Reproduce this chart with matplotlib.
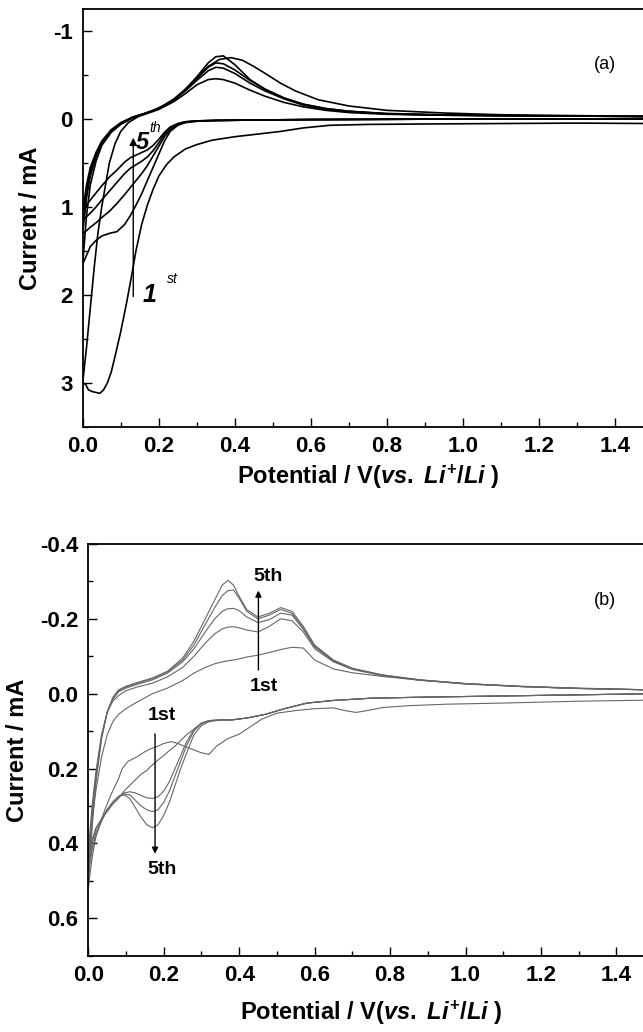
import matplotlib
matplotlib.use("Agg")
import matplotlib.pyplot as plt
from matplotlib.ticker import MultipleLocator, FormatStrFormatter

plt.rcParams['font.family'] = ['Liberation Sans', 'DejaVu Sans']
plt.rcParams['font.weight'] = 'bold'
plt.rcParams['axes.unicode_minus'] = False
plt.rcParams['mathtext.fontset'] = 'custom'
plt.rcParams['mathtext.rm'] = 'Liberation Sans:bold'
plt.rcParams['mathtext.it'] = 'Liberation Sans:italic:bold'
plt.rcParams['mathtext.bf'] = 'Liberation Sans:bold'

# ---------------- panel (a) data ----------------
# cycle 1, cathodic scan (1.5 V -> 0 V)
a1_cat_x = [1.5, 1.3, 1.1, 0.9, 0.75, 0.65, 0.58, 0.52, 0.46, 0.40, 0.34, 0.30, 0.27, 0.24, 0.22,
            0.20, 0.185, 0.17, 0.155, 0.14, 0.13, 0.115, 0.10, 0.085, 0.075, 0.065, 0.055, 0.045,
            0.035, 0.025, 0.015, 0.008, 0.0]
a1_cat_y = [0.05, 0.045, 0.05, 0.055, 0.06, 0.07, 0.10, 0.14, 0.17, 0.20, 0.24, 0.29, 0.34, 0.43, 0.52,
            0.65, 0.8, 0.98, 1.2, 1.5, 1.75, 2.1, 2.42, 2.7, 2.88, 3.0, 3.08, 3.12,
            3.11, 3.1, 3.08, 3.02, 3.0]
# cycle 1, anodic scan (0 V -> 1.5 V)
a1_an_x = [0.0, 0.01, 0.02, 0.03, 0.04, 0.05, 0.06, 0.07, 0.085, 0.10, 0.12, 0.15, 0.18, 0.21, 0.24,
           0.27, 0.30, 0.33, 0.36, 0.39, 0.42, 0.45, 0.48, 0.52, 0.56, 0.62, 0.70, 0.80, 0.95, 1.1,
           1.3, 1.5]
a1_an_y = [3.0, 2.6, 2.15, 1.7, 1.3, 1.0, 0.75, 0.5, 0.28, 0.14, 0.04, -0.04, -0.09, -0.15, -0.23,
           -0.34, -0.47, -0.6, -0.68, -0.70, -0.67, -0.60, -0.52, -0.41, -0.32, -0.22, -0.15, -0.10,
           -0.07, -0.05, -0.04, -0.03]

# cycles 2-5, cathodic scans
a_cat_x = [1.5, 1.2, 0.9, 0.6, 0.45, 0.35, 0.30, 0.27, 0.25, 0.23, 0.215, 0.20, 0.185, 0.17, 0.155,
           0.14, 0.125, 0.11, 0.09, 0.07, 0.05, 0.035, 0.02, 0.01, 0.0]
a2_cat_y = [0.0, 0.0, 0.0, 0.005, 0.01, 0.015, 0.025, 0.04, 0.07, 0.14, 0.25, 0.4, 0.55, 0.7, 0.85,
            0.98, 1.1, 1.2, 1.28, 1.3, 1.33, 1.38, 1.45, 1.55, 1.65]
a3_cat_y = [0.0, 0.0, 0.0, 0.005, 0.01, 0.015, 0.02, 0.035, 0.06, 0.12, 0.2, 0.31, 0.42, 0.53, 0.62,
            0.7, 0.78, 0.86, 0.96, 1.05, 1.12, 1.18, 1.23, 1.27, 1.3]
a4_cat_y = [0.0, 0.0, 0.0, 0.005, 0.01, 0.015, 0.02, 0.03, 0.055, 0.1, 0.17, 0.27, 0.36, 0.43, 0.48,
            0.52, 0.56, 0.62, 0.72, 0.82, 0.92, 1.0, 1.07, 1.11, 1.15]
a5_cat_y = [0.0, 0.0, 0.0, 0.005, 0.01, 0.015, 0.02, 0.03, 0.05, 0.09, 0.15, 0.23, 0.30, 0.35, 0.38,
            0.41, 0.44, 0.49, 0.58, 0.66, 0.76, 0.84, 0.92, 0.98, 1.05]

# cycles 2-5, anodic scans
a_an_x = [0.0, 0.01, 0.02, 0.035, 0.05, 0.075, 0.10, 0.13, 0.16, 0.20, 0.24, 0.27, 0.30, 0.33, 0.35,
          0.37, 0.40, 0.44, 0.48, 0.53, 0.58, 0.64, 0.70, 0.80, 0.95, 1.1, 1.3, 1.5]
a2_an_y = [1.65, 1.1, 0.75, 0.48, 0.3, 0.15, 0.06, -0.01, -0.05, -0.11, -0.2, -0.29, -0.39, -0.45,
           -0.46, -0.45, -0.41, -0.33, -0.26, -0.19, -0.14, -0.1, -0.075, -0.055, -0.045, -0.04,
           -0.035, -0.03]
a3_an_y = [1.3, 0.9, 0.65, 0.43, 0.28, 0.14, 0.05, -0.02, -0.06, -0.12, -0.22, -0.32, -0.44, -0.55,
           -0.59, -0.58, -0.52, -0.41, -0.32, -0.23, -0.16, -0.11, -0.085, -0.06, -0.045, -0.04,
           -0.035, -0.03]
a4_an_y = [1.15, 0.82, 0.6, 0.4, 0.27, 0.13, 0.05, -0.02, -0.06, -0.12, -0.22, -0.33, -0.46, -0.59,
           -0.64, -0.63, -0.56, -0.44, -0.34, -0.24, -0.17, -0.12, -0.09, -0.065, -0.05, -0.04,
           -0.035, -0.03]
a5_an_y = [1.05, 0.75, 0.55, 0.38, 0.25, 0.12, 0.04, -0.02, -0.06, -0.12, -0.22, -0.34, -0.48, -0.64,
           -0.71, -0.72, -0.62, -0.45, -0.34, -0.24, -0.17, -0.12, -0.09, -0.06, -0.045, -0.04,
           -0.035, -0.03]

# ---------------- panel (b) data ----------------
b_an_x = [0.0, 0.01, 0.02, 0.035, 0.05, 0.065, 0.08, 0.10, 0.13, 0.17, 0.21, 0.25, 0.28, 0.31, 0.335,
          0.355, 0.37, 0.385, 0.40, 0.42, 0.45, 0.48, 0.51, 0.54, 0.57, 0.60, 0.65, 0.70, 0.78,
          0.88, 1.0, 1.15, 1.3, 1.5]
b1_an_y = [0.42, 0.34, 0.26, 0.17, 0.11, 0.075, 0.055, 0.04, 0.022, 0.0, -0.015, -0.035, -0.055,
           -0.07, -0.08, -0.085, -0.088, -0.09, -0.093, -0.098, -0.103, -0.11, -0.118, -0.124,
           -0.122, -0.09, -0.066, -0.056, -0.046, -0.036, -0.027, -0.02, -0.015, -0.01]
b2_an_y = [0.42, 0.3, 0.21, 0.11, 0.05, 0.02, 0.005, -0.008, -0.018, -0.028, -0.045, -0.07, -0.1,
           -0.135, -0.16, -0.173, -0.178, -0.179, -0.176, -0.17, -0.165, -0.18, -0.2, -0.195,
           -0.165, -0.12, -0.085, -0.065, -0.048, -0.036, -0.026, -0.019, -0.014, -0.01]
b3_an_y = [0.45, 0.32, 0.22, 0.115, 0.05, 0.015, -0.005, -0.015, -0.025, -0.037, -0.055, -0.085,
           -0.12, -0.165, -0.2, -0.22, -0.227, -0.228, -0.222, -0.205, -0.19, -0.198, -0.215,
           -0.21, -0.172, -0.125, -0.087, -0.066, -0.049, -0.036, -0.026, -0.019, -0.014, -0.01]
b4_an_y = [0.48, 0.34, 0.23, 0.12, 0.05, 0.012, -0.008, -0.018, -0.028, -0.04, -0.058, -0.09, -0.13,
           -0.185, -0.23, -0.262, -0.275, -0.277, -0.255, -0.22, -0.2, -0.21, -0.225, -0.215,
           -0.175, -0.128, -0.088, -0.067, -0.05, -0.037, -0.027, -0.019, -0.014, -0.01]
b5_an_y = [0.52, 0.36, 0.24, 0.12, 0.05, 0.01, -0.01, -0.02, -0.03, -0.042, -0.06, -0.095, -0.14,
           -0.2, -0.25, -0.29, -0.303, -0.29, -0.26, -0.225, -0.205, -0.215, -0.23, -0.22, -0.18,
           -0.13, -0.09, -0.068, -0.05, -0.037, -0.027, -0.019, -0.014, -0.01]

b1_cat_x = [1.5, 1.3, 1.1, 0.95, 0.85, 0.78, 0.74, 0.71, 0.68, 0.65, 0.6, 0.55, 0.5, 0.46, 0.43,
            0.40, 0.37, 0.34, 0.32, 0.30, 0.28, 0.256, 0.235, 0.22, 0.2, 0.185, 0.168, 0.15, 0.13,
            0.105, 0.09, 0.079, 0.06, 0.044, 0.03, 0.018, 0.008, 0.0]
b1_cat_y = [0.017, 0.02, 0.025, 0.028, 0.032, 0.037, 0.045, 0.05, 0.045, 0.038, 0.04, 0.045, 0.052,
            0.068, 0.088, 0.108, 0.12, 0.14, 0.162, 0.158, 0.15, 0.141, 0.132, 0.128, 0.133, 0.14,
            0.146, 0.155, 0.168, 0.181, 0.2, 0.23, 0.27, 0.31, 0.35, 0.39, 0.42, 0.44]

b_cat_x = [1.5, 1.3, 1.1, 0.9, 0.75, 0.65, 0.58, 0.52, 0.47, 0.42, 0.38, 0.35, 0.32, 0.30, 0.28,
           0.26, 0.245, 0.23, 0.215, 0.20, 0.185, 0.17, 0.155, 0.14, 0.125, 0.11, 0.095, 0.08,
           0.065, 0.05, 0.035, 0.02, 0.01, 0.0]
b2_cat_y = [0.0, 0.003, 0.006, 0.009, 0.012, 0.018, 0.025, 0.04, 0.055, 0.065, 0.07, 0.07, 0.072,
            0.08, 0.095, 0.11, 0.125, 0.14, 0.152, 0.165, 0.177, 0.19, 0.205, 0.215, 0.23, 0.245,
            0.26, 0.28, 0.295, 0.315, 0.335, 0.36, 0.39, 0.42]
b3_cat_y = [0.0, 0.003, 0.006, 0.009, 0.012, 0.018, 0.025, 0.04, 0.055, 0.065, 0.07, 0.07, 0.072,
            0.078, 0.095, 0.13, 0.165, 0.2, 0.235, 0.26, 0.275, 0.28, 0.278, 0.272, 0.265, 0.262,
            0.265, 0.275, 0.29, 0.31, 0.335, 0.36, 0.4, 0.45]
b4_cat_y = [0.0, 0.003, 0.006, 0.009, 0.012, 0.018, 0.025, 0.04, 0.055, 0.065, 0.07, 0.07, 0.072,
            0.08, 0.1, 0.14, 0.18, 0.22, 0.26, 0.29, 0.31, 0.315, 0.31, 0.3, 0.285, 0.27, 0.268,
            0.275, 0.29, 0.31, 0.34, 0.37, 0.42, 0.48]
b5_cat_y = [0.0, 0.003, 0.006, 0.009, 0.012, 0.018, 0.025, 0.04, 0.055, 0.065, 0.07, 0.07, 0.075,
            0.085, 0.11, 0.16, 0.2, 0.245, 0.29, 0.325, 0.35, 0.358, 0.35, 0.33, 0.305, 0.28, 0.27,
            0.275, 0.29, 0.31, 0.34, 0.38, 0.44, 0.52]

a_yticks = [-1, 0, 1, 2, 3]
a_yticklabels = ["-1", "0", "1", "2", "3"]
xlabel_text = r"Potential / V($\it{vs.}$ $\it{Li}^{+}\it{/Li}$ )"


def style_axis(ax, xpad):
    ax.set_xlim(0, 1.5)
    ax.xaxis.set_major_locator(MultipleLocator(0.2))
    ax.xaxis.set_minor_locator(MultipleLocator(0.1))
    ax.xaxis.set_major_formatter(FormatStrFormatter("%.1f"))
    ax.tick_params(which='major', direction='in', length=6.5, width=1.0, labelsize=16, pad=7)
    ax.tick_params(which='minor', direction='in', length=3.5, width=1.0)
    for s in ax.spines.values():
        s.set_linewidth(1.3)
    ax.set_xlabel(xlabel_text, fontsize=17, fontweight='bold', labelpad=xpad)
    ax.set_ylabel("Current / mA", fontsize=17, fontweight='bold', labelpad=8)


fig = plt.figure(figsize=(6.43, 10.32), dpi=100)

# ---------------- panel (a) ----------------
ax1 = fig.add_axes([0.1286, 0.5865, 0.887, 0.4045])
lw_a = 1.2
ax1.plot(a1_cat_x, a1_cat_y, color='k', lw=lw_a)
ax1.plot(a1_an_x, a1_an_y, color='k', lw=lw_a)
for yc in [a2_cat_y, a3_cat_y, a4_cat_y, a5_cat_y]:
    ax1.plot(a_cat_x, yc, color='k', lw=lw_a)
for ya in [a2_an_y, a3_an_y, a4_an_y, a5_an_y]:
    ax1.plot(a_an_x, ya, color='k', lw=lw_a)
style_axis(ax1, 4)
ax1.set_ylim(3.5, -1.25)
ax1.set_yticks(a_yticks)
ax1.set_yticklabels(a_yticklabels)
ax1.yaxis.set_minor_locator(MultipleLocator(0.5))
ax1.annotate("", xy=(0.133, 0.18), xytext=(0.133, 2.05),
             arrowprops=dict(arrowstyle='-|>', color='k', lw=1.0, mutation_scale=11))
ax1.text(0.14, 0.34, "5", fontsize=17, fontweight='bold', style='italic')
ax1.text(0.175, 0.15, "th", fontsize=10, style='italic', fontweight='normal')
ax1.text(0.158, 2.08, "1", fontsize=18, fontweight='bold', style='italic')
ax1.text(0.222, 1.86, "st", fontsize=10, style='italic', fontweight='normal')
ax1.text(1.374, -0.62, "(a)", fontsize=13, fontweight='normal', ha='center', va='center')

# ---------------- panel (b) ----------------
ax2 = fig.add_axes([0.1373, 0.0739, 0.880, 0.399])
lw_b = 0.8
gc = '#666666'
for ya in [b1_an_y, b2_an_y, b3_an_y, b4_an_y, b5_an_y]:
    ax2.plot(b_an_x, ya, color=gc, lw=lw_b)
ax2.plot(b1_cat_x, b1_cat_y, color=gc, lw=lw_b)
for yc in [b2_cat_y, b3_cat_y, b4_cat_y, b5_cat_y]:
    ax2.plot(b_cat_x, yc, color=gc, lw=lw_b)
style_axis(ax2, 9)
ax2.set_ylim(0.7, -0.4)
ax2.yaxis.set_major_locator(MultipleLocator(0.2))
ax2.yaxis.set_minor_locator(MultipleLocator(0.1))
ax2.yaxis.set_major_formatter(FormatStrFormatter("%.1f"))
ax2.annotate("", xy=(0.451, -0.283), xytext=(0.451, -0.056),
             arrowprops=dict(arrowstyle='-|>', color='k', lw=1.0, mutation_scale=9))
ax2.text(0.477, -0.314, "5th", fontsize=14, fontweight='bold', ha='center', va='center')
ax2.text(0.465, -0.019, "1st", fontsize=14, fontweight='bold', ha='center', va='center')
ax2.annotate("", xy=(0.177, 0.435), xytext=(0.177, 0.10),
             arrowprops=dict(arrowstyle='-|>', color='k', lw=1.0, mutation_scale=9))
ax2.text(0.195, 0.057, "1st", fontsize=14, fontweight='bold', ha='center', va='center')
ax2.text(0.195, 0.47, "5th", fontsize=14, fontweight='bold', ha='center', va='center')
ax2.text(1.37, -0.25, "(b)", fontsize=13, fontweight='normal', ha='center', va='center')

fig.savefig("out.png", dpi=100)
